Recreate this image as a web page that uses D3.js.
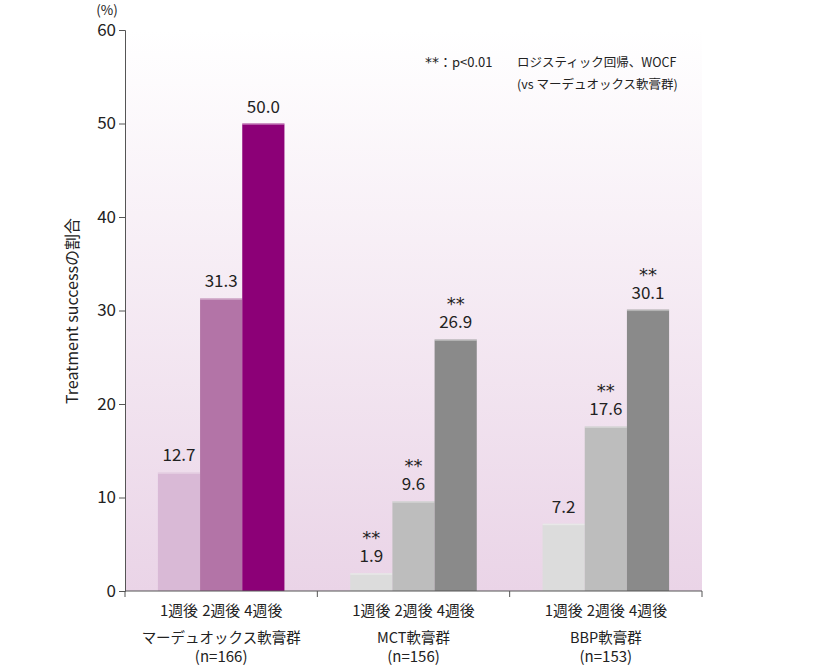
<!DOCTYPE html>
<html><head><meta charset="utf-8">
<script src="https://cdn.jsdelivr.net/npm/d3@7/dist/d3.min.js"></script>
<style>
body{margin:0;background:#fff;}
text{font-family:"Noto Sans CJK JP","Noto Sans",sans-serif;fill:#222;}
.ast{font-family:"DejaVu Sans",sans-serif;}
</style></head>
<body><svg id="c" width="818" height="667"></svg>
<script>
const groups = ["マーデュオックス軟膏群","MCT軟膏群","BBP軟膏群"];
const groupN = ["(n=166)","(n=156)","(n=153)"];
const weeks = ["1週後","2週後","4週後"];
const values = [[12.7,31.3,50.0],[1.9,9.6,26.9],[7.2,17.6,30.1]];
const signif = [[false,false,false],[true,true,true],[false,true,true]];
const yTicks = [0,10,20,30,40,50,60];
const colors = [["#d9b9d6","#b374a7","#8c0077"],["#dcdcdc","#bdbdbd","#8a8a8a"],["#dcdcdc","#bdbdbd","#8a8a8a"]];

const svg = d3.select("#c");
const L=125, R=702, T=30, B=591;
const y = d3.scaleLinear().domain([0,60]).range([B,T]);
const x0 = d3.scaleBand().domain(groups).range([L,R]);
const x1 = d3.scaleBand().domain(weeks).range([0,x0.bandwidth()]).paddingOuter(0.78).paddingInner(0);

const defs = svg.append("defs");
const g = defs.append("linearGradient").attr("id","bg").attr("x1",0).attr("y1",0).attr("x2",0).attr("y2",1);
g.append("stop").attr("offset","0%").attr("stop-color","#ffffff");
g.append("stop").attr("offset","100%").attr("stop-color","#ead4e7");
svg.append("rect").attr("x",L).attr("y",T).attr("width",R-L).attr("height",B-T).attr("fill","url(#bg)");

groups.forEach((gn,gi)=>{
  const gx = x0(gn);
  weeks.forEach((w,wi)=>{
    const v = values[gi][wi];
    const bx = gx + x1(w), bw = x1.bandwidth();
    svg.append("rect").attr("x",bx).attr("y",y(v)).attr("width",bw).attr("height",B-y(v)).attr("fill",colors[gi][wi]);
    svg.append("rect").attr("x",bx).attr("y",y(v)).attr("width",bw).attr("height",1.5).attr("fill","#fff").attr("opacity",0.35);
    svg.append("text").attr("x",bx+bw/2).attr("y",y(v)-11).attr("text-anchor","middle").attr("font-size",17).text(v.toFixed(1));
    if(signif[gi][wi]) svg.append("text").attr("class","ast").attr("x",bx+bw/2).attr("y",y(v)-29).attr("text-anchor","middle").attr("font-size",18).text("**");
    svg.append("text").attr("x",bx+bw/2).attr("y",616).attr("text-anchor","middle").attr("font-size",15).attr("textLength",38).attr("lengthAdjust","spacingAndGlyphs").text(w);
  });
  svg.append("text").attr("x",gx+x0.bandwidth()/2).attr("y",643).attr("text-anchor","middle").attr("font-size",14.5).text(gn);
  svg.append("text").attr("x",gx+x0.bandwidth()/2).attr("y",662).attr("text-anchor","middle").attr("font-size",15).text(groupN[gi]);
});

// y axis
const ya = svg.append("g").attr("transform",`translate(${L},0)`).call(d3.axisLeft(y).tickValues(yTicks).tickSize(6).tickPadding(3));
ya.select(".domain").attr("stroke","#555");
ya.selectAll(".tick line").attr("stroke","#555");
ya.selectAll(".tick text").attr("font-size",17).attr("fill","#222").style("font-family","'Noto Sans CJK JP','Noto Sans',sans-serif");
// x axis
const xa = svg.append("g").attr("transform",`translate(0,${B})`);
xa.append("line").attr("x1",L).attr("x2",R).attr("y1",0).attr("y2",0).attr("stroke","#555");
groups.forEach((gn,gi)=>{
  const xx = x0(gn)+x0.bandwidth();
  xa.append("line").attr("x1",xx).attr("x2",xx).attr("y1",0).attr("y2",6).attr("stroke","#555");
});
xa.append("line").attr("x1",L).attr("x2",L).attr("y1",0).attr("y2",6).attr("stroke","#555");

svg.append("text").attr("x",107).attr("y",15).attr("text-anchor","middle").attr("font-size",13.5).text("(%)");
svg.append("text").attr("transform","translate(78,311) rotate(-90)").attr("text-anchor","middle").attr("font-size",16).text("Treatment successの割合");

const lg = svg.append("text").attr("x",425).attr("y",67).attr("font-size",13);
lg.append("tspan").attr("class","ast").attr("font-size",14).text("**");
lg.append("tspan").text("：p<0.01");
svg.append("text").attr("x",517).attr("y",67).attr("font-size",12.5).text("ロジスティック回帰、WOCF");
svg.append("text").attr("x",517).attr("y",89).attr("font-size",12.5).text("(vs マーデュオックス軟膏群)");
</script></body></html>
